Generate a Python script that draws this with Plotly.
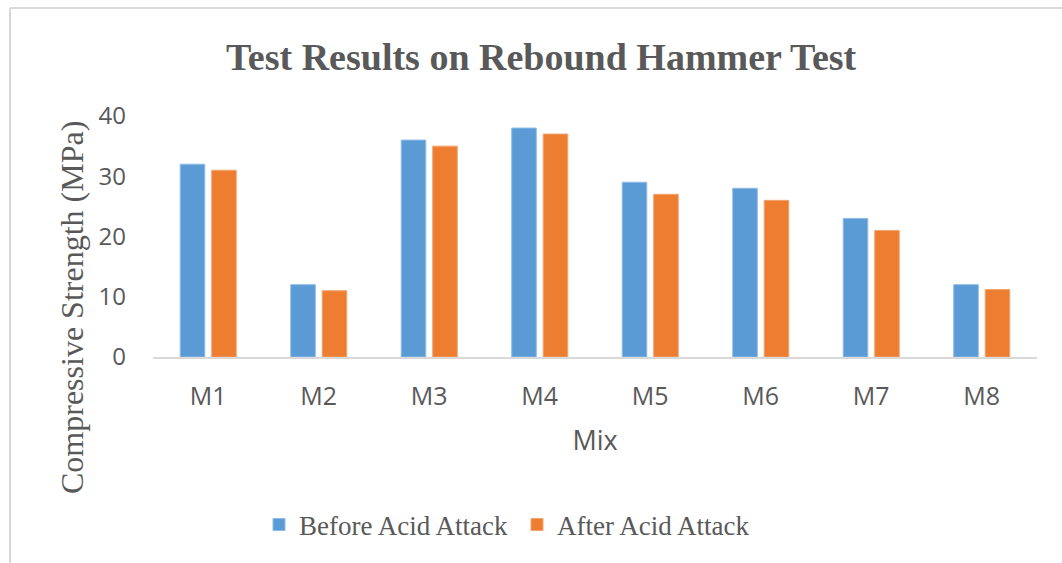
import plotly.graph_objects as go

mixes = ["M1", "M2", "M3", "M4", "M5", "M6", "M7", "M8"]
before_acid = [32, 12, 36, 38, 29, 28, 23, 12]
after_acid = [31, 11, 35, 37, 27, 26, 21, 11.2]
y_ticks = [0, 10, 20, 30, 40]

W, H = 1062, 563
L, R, T, B = 153, 25, 116, 206
pw, ph = W - L - R, H - T - B

def px(x):
    return (x - L) / pw

def py(y):
    return (H - B - y) / ph

grey = "#595959"
serif = "Liberation Serif, Times New Roman, serif"
sans = "Open Sans, Calibri, sans-serif"

fig = go.Figure()
fig.add_trace(go.Bar(x=mixes, y=before_acid, name="Before Acid Attack",
                     marker=dict(color="#5B9BD5", line=dict(color="#8DBBE6", width=1))))
fig.add_trace(go.Bar(x=mixes, y=after_acid, name="After Acid Attack",
                     marker=dict(color="#ED7D31", line=dict(color="#F3A46F", width=1))))

fig.update_layout(
    width=W, height=H,
    margin=dict(l=L, r=R, t=T, b=B),
    paper_bgcolor="white", plot_bgcolor="white",
    barmode="group", bargap=0.43, bargroupgap=0.22,
    showlegend=True,
    legend=dict(orientation="h", x=px(517), y=py(525), xanchor="center", yanchor="middle",
                font=dict(family=serif, size=27, color=grey),
                entrywidth=213, entrywidthmode="pixels"),
    xaxis=dict(showline=True, linecolor="#d9d9d9", linewidth=2, showgrid=False,
               ticks="", tickfont=dict(family=sans, size=25, color=grey),
               ticklabelstandoff=16,
               title=dict(text="Mix", font=dict(family=sans, size=27, color=grey), standoff=20)),
    yaxis=dict(range=[0, 40], tickvals=y_ticks, showgrid=False, showline=False, zeroline=False,
               ticks="", tickfont=dict(family=sans, size=24, color=grey),
               ticklabelstandoff=26),
    annotations=[
        dict(text="<b>Test Results on Rebound Hammer Test</b>", xref="paper", yref="paper",
             x=px(541), y=py(57), xanchor="center", yanchor="middle", showarrow=False,
             font=dict(family=serif, size=38, color=grey)),
        dict(text="Compressive Strength (MPa)", xref="paper", yref="paper",
             x=px(72), y=py(308), xanchor="center", yanchor="middle", showarrow=False,
             textangle=-90, font=dict(family=serif, size=32, color=grey)),
    ],
    shapes=[
        dict(type="line", xref="paper", yref="paper", x0=px(10), x1=px(10), y0=py(8), y1=py(H),
             line=dict(color="#d9d9d9", width=2)),
        dict(type="line", xref="paper", yref="paper", x0=px(10), x1=px(W), y0=py(8), y1=py(8),
             line=dict(color="#d9d9d9", width=2)),
    ],
)

fig.write_html("out.html", config={"displayModeBar": False},
               post_script="document.body.style.margin='0';")
